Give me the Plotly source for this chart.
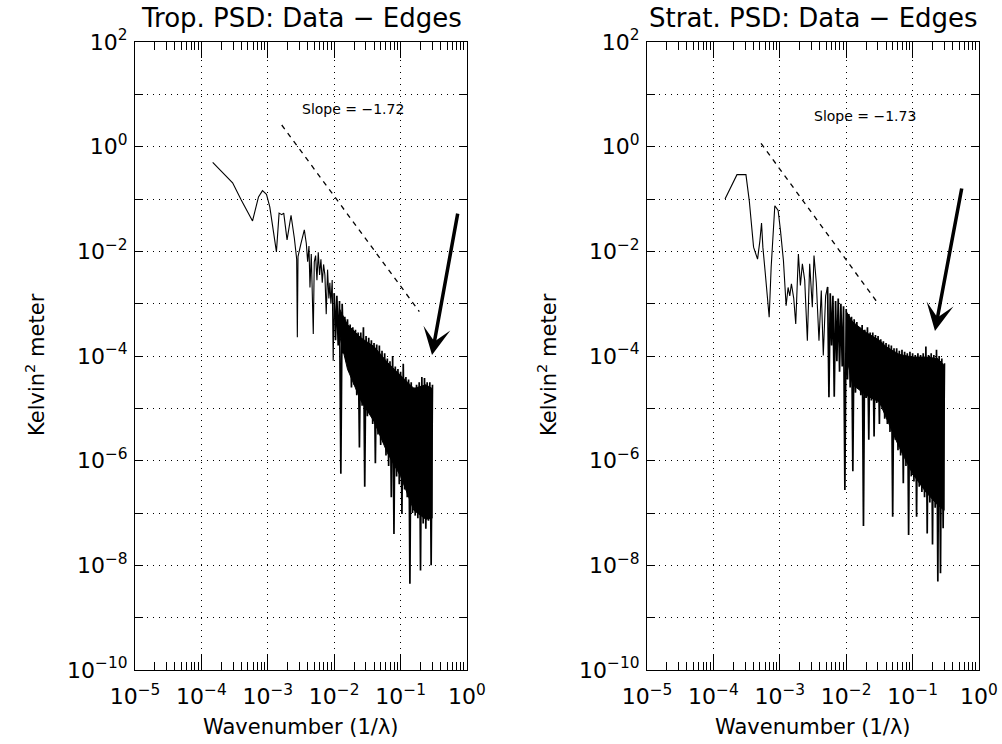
import numpy as np
import plotly.graph_objects as go

# ---------------- data (log10 values) ----------------
trop_log_k = [-3.83, -3.53, -3.40, -3.23, -3.14, -3.08, -3.02, -2.97, -2.87, -2.83, -2.79, -2.76,
              -2.71, -2.65, -2.60, -2.565, -2.555, -2.545, -2.50, -2.45, -2.42, -2.40, -2.38, -2.365,
              -2.345, -2.315, -2.30, -2.28, -2.26, -2.24, -2.22, -2.20, -2.18, -2.16, -2.14, -2.12,
              -2.10, -2.08, -2.065, -2.05, -2.03, -2.015,
              -2.00, -1.98, -1.96, -1.94, -1.92, -1.90, -1.88, -1.86, -1.84, -1.82, -1.80, -1.78,
              -1.76, -1.74, -1.72, -1.70, -1.68, -1.66, -1.64, -1.62, -1.60, -1.58, -1.56, -1.54,
              -1.52, -1.50, -1.48, -1.46, -1.44, -1.42, -1.40, -1.38, -1.36, -1.34, -1.32, -1.30,
              -1.28, -1.26, -1.24, -1.22, -1.20, -1.18, -1.16, -1.14, -1.12, -1.10, -1.08, -1.06,
              -1.04, -1.02, -1.00, -0.98, -0.96, -0.94, -0.92, -0.90, -0.88, -0.86, -0.84, -0.82,
              -0.80, -0.78, -0.76, -0.74, -0.72, -0.70, -0.68, -0.66, -0.64, -0.62, -0.60, -0.58,
              -0.56, -0.54, -0.52]
trop_log_psd = [-0.30, -0.69, -1.02, -1.42, -0.96, -0.84, -0.91, -1.15, -2.01, -1.27, -1.30, -1.27,
                -1.78, -1.31, -1.75, -2.15, -3.64, -2.10, -1.85, -1.59, -1.85, -2.20, -1.90, -2.69,
                -2.05, -3.58, -2.20, -2.08, -2.55, -2.02, -2.45, -2.15, -2.60, -2.25, -2.45, -3.20,
                -2.35, -2.90, -2.60, -3.00, -2.55, -4.09,
                -2.80, -3.70, -2.85, -3.80, -2.95, -6.25, -3.00, -3.95, -3.25, -4.10, -3.30, -4.30,
                -3.40, -4.60, -3.45, -4.55, -3.50, -4.75, -3.55, -5.75, -3.55, -4.95, -3.45, -6.50,
                -3.62, -5.15, -3.65, -5.10, -3.70, -5.30, -3.75, -6.05, -3.78, -5.50, -3.80, -5.70,
                -3.90, -5.65, -3.95, -5.90, -4.05, -6.10, -4.10, -6.70, -4.00, -7.40, -4.20, -6.30,
                -4.25, -6.45, -4.30, -7.02, -4.15, -6.55, -4.40, -6.70, -4.45, -8.35, -4.50, -7.00,
                -4.60, -7.05, -4.55, -7.10, -4.50, -8.10, -4.40, -7.20, -4.42, -7.30, -4.50, -7.15,
                -4.50, -8.00, -4.55]

strat_log_k = [-3.825, -3.645, -3.51, -3.46, -3.395, -3.335, -3.30, -3.275, -3.255, -3.22, -3.16,
               -3.13, -3.075, -3.025, -2.99, -2.945, -2.905, -2.875, -2.85, -2.825, -2.79, -2.76,
               -2.72, -2.69, -2.66, -2.625, -2.585, -2.55, -2.51, -2.485, -2.45, -2.41, -2.375,
               -2.345, -2.31,
               -2.28, -2.26, -2.24, -2.22, -2.20, -2.18, -2.16, -2.14, -2.12, -2.10, -2.08, -2.06,
               -2.04, -2.02, -2.00, -1.98, -1.96, -1.94, -1.92, -1.90, -1.88, -1.86, -1.84, -1.82,
               -1.80, -1.78, -1.76, -1.74, -1.72, -1.70, -1.68, -1.66, -1.64, -1.62, -1.60, -1.58,
               -1.56, -1.54, -1.52, -1.50, -1.48, -1.46, -1.44, -1.42, -1.40, -1.38, -1.36, -1.34,
               -1.32, -1.30, -1.28, -1.26, -1.24, -1.22, -1.20, -1.18, -1.16, -1.14, -1.12, -1.10,
               -1.08, -1.06, -1.04, -1.02, -1.00, -0.98, -0.96, -0.94, -0.92, -0.90, -0.88, -0.86,
               -0.84, -0.82, -0.80, -0.78, -0.76, -0.74, -0.72, -0.70, -0.68, -0.66, -0.64, -0.62,
               -0.60, -0.58, -0.56, -0.54, -0.52]
strat_log_psd = [-1.00, -0.535, -0.535, -1.03, -1.92, -2.15, -1.80, -1.46, -1.92, -2.40, -3.26,
                 -2.30, -1.13, -1.22, -1.60, -2.18, -3.04, -2.69, -2.85, -2.62, -2.90, -3.39,
                 -2.05, -2.65, -2.24, -2.55, -3.71, -2.24, -3.07, -2.08, -2.60, -3.71, -2.75,
                 -3.99, -2.85,
                 -2.68, -4.79, -2.80, -3.80, -2.85, -4.78, -2.95, -4.10, -2.90, -4.30, -3.00, -4.20,
                 -3.05, -6.56, -3.10, -4.45, -3.20, -4.60, -3.25, -6.20, -3.30, -4.70, -3.35, -4.55,
                 -3.45, -4.75, -3.41, -7.25, -3.50, -4.80, -3.45, -5.60, -3.55, -4.85, -3.55, -5.54,
                 -3.60, -4.90, -3.62, -5.30, -3.68, -4.95, -3.72, -5.20, -3.75, -5.30, -3.78, -5.45,
                 -3.80, -7.07, -3.85, -5.60, -3.85, -5.80, -3.90, -5.90, -3.88, -6.43, -3.92, -6.10,
                 -3.95, -7.42, -3.92, -6.30, -3.95, -6.40, -3.98, -7.07, -3.95, -6.50, -3.98, -6.60,
                 -3.95, -6.70, -3.82, -7.39, -3.98, -6.80, -3.95, -7.60, -3.98, -6.90, -3.88, -8.31,
                 -4.00, -8.15, -4.05, -7.29, -4.14]

# index where the densely sampled part of each spectrum begins
trop_dense_start = 42
strat_dense_start = 35

# solid black core of the dense oscillation (upper / lower edges, log10)
trop_core_k = [-1.92, -1.80, -1.60, -1.40, -1.20, -1.00, -0.80, -0.62, -0.525]
trop_core_top = [-3.10, -3.40, -3.65, -3.82, -4.12, -4.38, -4.62, -4.55, -4.62]
trop_core_bottom = [-3.60, -4.25, -4.85, -5.25, -5.85, -6.30, -6.95, -7.12, -7.10]
strat_core_k = [-2.00, -1.90, -1.70, -1.50, -1.40, -1.20, -1.00, -0.80, -0.62, -0.525]
strat_core_top = [-3.15, -3.35, -3.55, -3.70, -3.82, -3.97, -4.02, -4.02, -4.05, -4.18]
strat_core_bottom = [-4.00, -4.55, -4.75, -4.88, -5.15, -5.75, -6.25, -6.60, -6.85, -6.95]

# slope reference lines (log10 endpoints) and labels
trop_slope_k = [-2.79, -0.718]
trop_slope_psd = [0.414, -3.15]
strat_slope_k = [-3.283, -1.541]
strat_slope_psd = [0.064, -2.96]
slope_labels = ["Slope = \u22121.72", "Slope = \u22121.73"]
titles = ["Trop. PSD: Data \u2212 Edges", "Strat. PSD: Data \u2212 Edges"]

x_decades = [-5, -4, -3, -2, -1, 0]
y_decades = list(range(-10, 3))

FONT = "DejaVu Sans"


def sup_label(e):
    s = str(e).replace("-", "\u2212")
    return f"10<sup>{s}</sup>"


x_tickvals = [10.0 ** e for e in x_decades]
x_ticktext = [sup_label(e) for e in x_decades]
y_tickvals = [10.0 ** e for e in y_decades]
y_ticktext = [sup_label(e) if e % 2 == 0 else "" for e in y_decades]

fig = go.Figure()

panels = [
    ("x", "y", trop_log_k, trop_log_psd, trop_dense_start, trop_slope_k, trop_slope_psd,
     trop_core_k, trop_core_top, trop_core_bottom),
    ("x2", "y2", strat_log_k, strat_log_psd, strat_dense_start, strat_slope_k, strat_slope_psd,
     strat_core_k, strat_core_top, strat_core_bottom),
]
for xa, ya, lk, lp, ds, sk, sp, ck, ct, cb in panels:
    k = [10.0 ** v for v in lk]
    p = [10.0 ** v for v in lp]
    # solid core band of the dense oscillation
    fig.add_trace(go.Scatter(
        x=[10.0 ** v for v in ck + ck[::-1]], y=[10.0 ** v for v in ct + cb[::-1]],
        mode="lines", fill="toself", fillcolor="black", line=dict(color="black", width=1),
        xaxis=xa, yaxis=ya, showlegend=False, hoverinfo="skip"))
    # low-wavenumber part, thin line
    fig.add_trace(go.Scatter(
        x=k[:ds + 1], y=p[:ds + 1],
        mode="lines", line=dict(color="black", width=1.1, simplify=False),
        xaxis=xa, yaxis=ya, showlegend=False, hoverinfo="skip"))
    # densely oscillating high-wavenumber part
    fig.add_trace(go.Scatter(
        x=k[ds:], y=p[ds:],
        mode="lines", line=dict(color="black", width=1.7, simplify=False),
        xaxis=xa, yaxis=ya, showlegend=False, hoverinfo="skip"))
    fig.add_trace(go.Scatter(
        x=[10.0 ** v for v in sk], y=[10.0 ** v for v in sp],
        mode="lines", line=dict(color="black", width=1.3, dash="5px,5px"),
        xaxis=xa, yaxis=ya, showlegend=False, hoverinfo="skip"))

X_DOM = [[135 / 1002, 467 / 1002], [647 / 1002, 979 / 1002]]
Y_DOM = [1 - 670 / 744, 1 - 42 / 744]

common_x = dict(
    type="log", range=[-5, 0], tickmode="array", tickvals=x_tickvals, ticktext=x_ticktext,
    ticks="inside", ticklen=16, tickwidth=1, tickcolor="black", automargin=False,
    ticklabelstandoff=7,
    showline=True, linecolor="black", linewidth=1, mirror="allticks",
    showgrid=True, gridcolor="black", gridwidth=1, griddash="1px,5px",
    minor=dict(ticks="inside", ticklen=8, tickcolor="black", tickwidth=1, dtick="D1", showgrid=False),
    tickfont=dict(family=FONT, size=22, color="black"), zeroline=False,
)
common_y = dict(
    type="log", range=[-10, 2], tickmode="array", tickvals=y_tickvals, ticktext=y_ticktext,
    ticks="inside", ticklen=8, tickwidth=1, tickcolor="black", automargin=False,
    ticklabelstandoff=2,
    showline=True, linecolor="black", linewidth=1, mirror="allticks",
    showgrid=True, gridcolor="black", gridwidth=1, griddash="1px,5px",
    tickfont=dict(family=FONT, size=22, color="black"), zeroline=False,
    domain=Y_DOM,
)

fig.update_layout(
    width=1002, height=744,
    margin=dict(l=0, r=0, t=0, b=0, autoexpand=False),
    paper_bgcolor="white", plot_bgcolor="white",
    font=dict(family=FONT, color="black"),
    xaxis=dict(common_x, domain=X_DOM[0], anchor="y"),
    yaxis=dict(common_y, anchor="x"),
    xaxis2=dict(common_x, domain=X_DOM[1], anchor="y2"),
    yaxis2=dict(common_y, anchor="x2"),
)

annotations = []
for i, (xa, ya) in enumerate([("x", "y"), ("x2", "y2")]):
    cx = (X_DOM[i][0] + X_DOM[i][1]) / 2
    annotations.append(dict(text=titles[i], xref="paper", yref="paper", x=cx, y=1 - 18 / 744,
                            xanchor="center", yanchor="middle", showarrow=False,
                            font=dict(family=FONT, size=26, color="black")))
    annotations.append(dict(text="Wavenumber (1/\u03bb)", xref="paper", yref="paper", x=cx,
                            y=1 - 727 / 744, xanchor="center", yanchor="middle", showarrow=False,
                            font=dict(family=FONT, size=21, color="black")))
    annotations.append(dict(text="Kelvin<sup>2</sup> meter", xref="paper", yref="paper",
                            x=(35 + 512 * i) / 1002, y=1 - 365 / 744, textangle=-90,
                            xanchor="center", yanchor="middle", showarrow=False,
                            font=dict(family=FONT, size=21, color="black")))

annotations.append(dict(text=slope_labels[0], xref="x", yref="y", x=-2.515, y=0.72,
                        xanchor="left", yanchor="middle", showarrow=False,
                        font=dict(family=FONT, size=14, color="black")))
annotations.append(dict(text=slope_labels[1], xref="x2", yref="y2", x=-2.515, y=0.586,
                        xanchor="left", yanchor="middle", showarrow=False,
                        font=dict(family=FONT, size=14, color="black")))

# arrows: tip (x, y) and tail (ax, ay) in log10 units
arrows = [("x", "y", -0.527, -3.98, -0.136, -1.25), ("x2", "y2", -0.663, -3.52, -0.256, -0.77)]
for xa, ya, tx, ty, sx, sy in arrows:
    annotations.append(dict(text="", xref=xa, yref=ya, x=tx, y=ty, axref=xa, ayref=ya, ax=sx, ay=sy,
                            showarrow=True, arrowhead=3, arrowwidth=3.5, arrowsize=1.3,
                            arrowcolor="black", standoff=0))

fig.update_layout(annotations=annotations)
fig.write_html("out.html")
